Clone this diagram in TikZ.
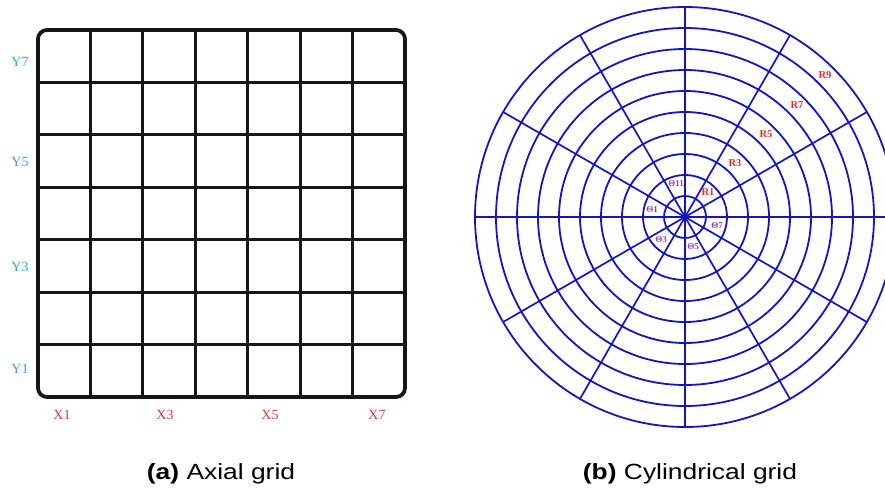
\documentclass[tikz,border=0pt]{standalone}
\usepackage{fontspec}
\setmainfont{Liberation Serif}
\setsansfont{Liberation Sans}
\usepackage{xcolor}
\usetikzlibrary{positioning}
\definecolor{grd}{HTML}{161616}
\definecolor{ylab}{HTML}{3AA2D6}
\definecolor{xlab}{HTML}{D0383C}
\definecolor{cyl}{HTML}{1414C4}
\definecolor{rlab}{HTML}{E42A2E}
\definecolor{tlab}{HTML}{A03CA8}
\tikzset{
  axlab/.style={font=\fontsize{14}{14}\selectfont, inner sep=0pt},
  rtag/.style={rlab, font=\bfseries\fontsize{10.5}{10.5}\selectfont, inner sep=0pt},
  ttag/.style={tlab, font=\bfseries\fontsize{9}{9}\selectfont, inner sep=0pt},
  captext/.style={font=\sffamily\fontsize{22}{22}\selectfont, xscale=1.2, transform shape, inner sep=0pt}
}

\begin{document}
\begin{tikzpicture}[x=1pt,y=-1pt]
\useasboundingbox (0,0) rectangle (885,491);
\clip (0,0) rectangle (885,491);
% AXIAL
\foreach \i in {1,...,6}{
  \draw[grd,line width=2.8pt] (38+52.43*\i,30) -- (38+52.43*\i,397);
  \draw[grd,line width=2.8pt] (38,30+52.43*\i) -- (405,30+52.43*\i);
}
\draw[grd,line width=3.8pt,rounded corners=9pt] (38,30) rectangle (405,397);
\foreach \n/\yy in {7/62,5/162,3/267,1/369}{
  \node[axlab,ylab] (y\n) at (20,\yy) {Y\n};
}
\foreach \n/\xx in {1/62,3/165,5/270,7/377}{
  \node[axlab,xlab] (x\n) at (\xx,415) {X\n};
}
% CYLINDRICAL
\coordinate (o) at (685,217);
\foreach \k in {1,...,10}{ \draw[cyl,line width=1.8pt] (o) circle[radius={\k*21pt}]; }
\foreach \a in {0,30,...,330}{ \draw[cyl,line width=1.7pt] (o) -- ++(\a:210pt); }
\foreach \n/\xx/\yy in {1/708/192, 3/735/163, 5/766/134, 7/797/105, 9/825/75}{
  \node[rtag] (r\n) at (\xx,\yy) {R\n};
}
\foreach \n/\xx/\yy in {11/676/184, 1/652/210, 3/661/240, 5/693/247, 7/717/226}{
  \node[ttag] (t\n) at (\xx,\yy) {Θ\n};
}
% CAPTIONS
\node[captext] (capa) at (221,474) {\textbf{(a)} Axial grid};
\node[captext] (capb) at (690,474) {\textbf{(b)} Cylindrical grid};
\end{tikzpicture}
\end{document}
